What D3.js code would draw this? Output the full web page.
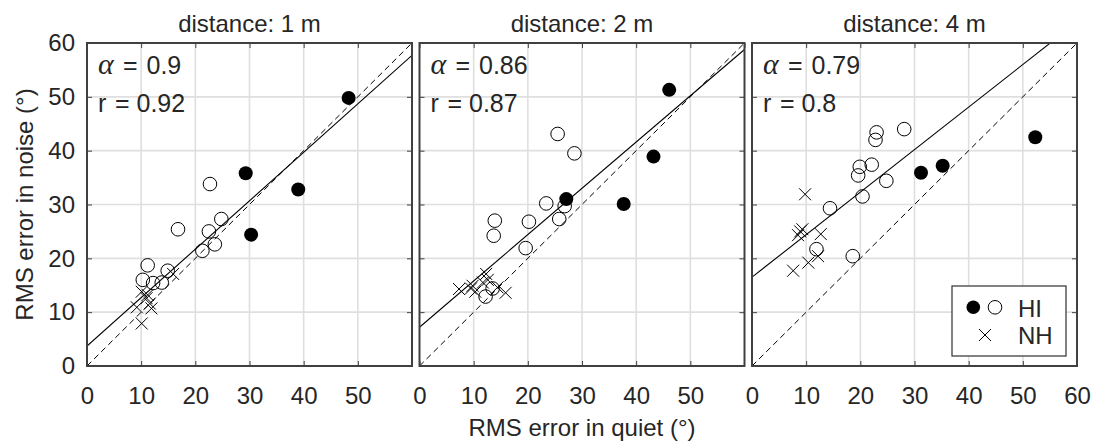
<!DOCTYPE html>
<html>
<head>
<meta charset="utf-8">
<script src="https://cdn.jsdelivr.net/npm/d3@7"></script>
<style>
  body { margin: 0; background: #fff; }
  text { font-family: "Liberation Sans", Arial, sans-serif; fill: #262626; }
</style>
</head>
<body>
<div id="chart-area"></div>
<script>

// Data ([quiet, noise] pairs)
var titles = ["distance: 1 m", "distance: 2 m", "distance: 4 m"];
var alphas = [0.9, 0.86, 0.79];
var intercepts = [3.7, 7.2, 16.5];
var rValues = [0.92, 0.87, 0.8];

var hiFilled1 = [[48.3, 49.8], [29.3, 35.8], [39.0, 32.8], [30.3, 24.4]];
var hiOpen1 = [[22.7, 33.8], [16.8, 25.4], [24.8, 27.3], [22.5, 25.0], [23.6, 22.6], [21.3, 21.4],
               [11.2, 18.7], [10.3, 16.0], [12.2, 15.4], [13.8, 15.5], [14.9, 17.7]];
var nh1 = [[10.1, 7.9], [9.2, 10.9], [10.1, 13.8], [11.0, 12.6], [11.6, 11.6], [11.9, 10.7],
           [11.2, 13.2], [15.9, 17.1]];

var hiFilled2 = [[46.1, 51.3], [43.2, 38.9], [27.1, 31.0], [37.7, 30.1]];
var hiOpen2 = [[25.5, 43.1], [28.6, 39.5], [23.4, 30.2], [26.8, 29.7], [25.8, 27.3], [13.9, 27.0],
               [13.7, 24.2], [20.2, 26.8], [19.6, 21.9], [13.5, 14.4], [12.2, 12.9]];
var nh2 = [[7.3, 14.3], [9.5, 14.4], [9.8, 14.9], [10.3, 13.8], [11.7, 15.5], [12.3, 17.1],
           [12.6, 16.0], [15.9, 13.6], [14.4, 14.6]];

var hiFilled3 = [[31.2, 35.9], [35.2, 37.2], [52.3, 42.5]];
var hiOpen3 = [[23.0, 43.4], [22.8, 42.0], [28.1, 44.0], [22.1, 37.4], [19.9, 37.0], [19.6, 35.4],
               [24.8, 34.4], [20.4, 31.5], [14.4, 29.3], [11.9, 21.7], [18.6, 20.4]];
var nh3 = [[9.8, 31.9], [8.9, 25.0], [8.5, 24.3], [9.3, 25.4], [12.7, 24.5], [7.6, 17.7],
           [10.4, 19.2], [12.2, 20.4]];

var xTicks = [0, 10, 20, 30, 40, 50, 60];
var yTicks = [0, 10, 20, 30, 40, 50, 60];

var panels = [
  {filled: hiFilled1, open: hiOpen1, nh: nh1},
  {filled: hiFilled2, open: hiOpen2, nh: nh2},
  {filled: hiFilled3, open: hiOpen3, nh: nh3}
];

// Layout
var W = 1093, H = 444;
var panelLeft = [87, 419.5, 752];
var panelW = 325, plotTop = 43, panelH = 323;
var fontSize = 24;

var svg = d3.select("#chart-area").append("svg")
    .attr("width", W)
    .attr("height", H);

var x = d3.scaleLinear().domain([0, 60]).range([0, panelW]);
var y = d3.scaleLinear().domain([0, 60]).range([panelH, 0]);

var gridColor = "#dfdfdf", boxColor = "#404040";

function crossPath(s) {
  return `M${-s},${-s}L${s},${s}M${-s},${s}L${s},${-s}`;
}

function styleTicks(sel) {
  sel.select(".domain").remove();
  sel.selectAll("line").attr("stroke", boxColor);
  sel.selectAll("text").attr("font-size", fontSize).attr("fill", "#262626")
      .attr("font-family", "Liberation Sans, Arial, sans-serif");
}

panels.forEach(function(p, i) {
  var g = svg.append("g")
      .attr("transform", `translate(${panelLeft[i]},${plotTop})`);

  g.append("clipPath").attr("id", "clip" + i)
    .append("rect").attr("width", panelW).attr("height", panelH);

  // grid
  g.selectAll(".gx").data(xTicks.slice(1, -1)).join("line")
      .attr("class", "gx")
      .attr("x1", d => x(d)).attr("x2", d => x(d))
      .attr("y1", 0).attr("y2", panelH)
      .attr("stroke", gridColor).attr("stroke-width", 1.6);
  g.selectAll(".gy").data(yTicks.slice(1, -1)).join("line")
      .attr("class", "gy")
      .attr("y1", d => y(d)).attr("y2", d => y(d))
      .attr("x1", 0).attr("x2", panelW)
      .attr("stroke", gridColor).attr("stroke-width", 1.6);

  // axes, ticks pointing inward
  var xAxis = d3.axisBottom(x).tickValues(i == 2 ? xTicks : xTicks.slice(0, -1))
      .tickSize(-5).tickPadding(21).tickFormat(d3.format("d"));
  g.append("g").attr("transform", `translate(0,${panelH})`).call(xAxis).call(styleTicks);

  g.append("g").call(d3.axisTop(x).tickValues(xTicks).tickSize(-5).tickFormat(""))
      .call(styleTicks);

  var yAxis = d3.axisLeft(y).tickValues(yTicks).tickSize(-5).tickPadding(12);
  if (i != 0) yAxis.tickFormat("");
  g.append("g").call(yAxis).call(styleTicks);

  g.append("g").attr("transform", `translate(${panelW},0)`)
      .call(d3.axisRight(y).tickValues(yTicks).tickSize(-5).tickFormat(""))
      .call(styleTicks);

  // identity (dashed) and fitted line
  var lines = g.append("g").attr("clip-path", `url(#clip${i})`);
  lines.append("line")
      .attr("x1", x(0)).attr("y1", y(0)).attr("x2", x(60)).attr("y2", y(60))
      .attr("stroke", "#000").attr("stroke-width", 1).attr("stroke-dasharray", "6,4");
  lines.append("line")
      .attr("x1", x(0)).attr("y1", y(intercepts[i]))
      .attr("x2", x(60)).attr("y2", y(intercepts[i] + alphas[i] * 60))
      .attr("stroke", "#000").attr("stroke-width", 1.1);

  // markers
  g.selectAll(".nh").data(p.nh).join("path")
      .attr("class", "nh")
      .attr("transform", d => `translate(${x(d[0])},${y(d[1])})`)
      .attr("d", crossPath(6))
      .attr("stroke", "#000").attr("stroke-width", 1).attr("fill", "none");
  g.selectAll(".op").data(p.open).join("circle")
      .attr("class", "op")
      .attr("cx", d => x(d[0])).attr("cy", d => y(d[1])).attr("r", 6.8)
      .attr("fill", "none").attr("stroke", "#000").attr("stroke-width", 1);
  g.selectAll(".fi").data(p.filled).join("circle")
      .attr("class", "fi")
      .attr("cx", d => x(d[0])).attr("cy", d => y(d[1])).attr("r", 7)
      .attr("fill", "#000");

  // box
  g.append("rect").attr("width", panelW).attr("height", panelH)
      .attr("fill", "none").attr("stroke", boxColor).attr("stroke-width", 2);

  // title
  g.append("text").attr("x", panelW / 2).attr("y", -11)
      .attr("text-anchor", "middle").attr("font-size", fontSize)
      .text(titles[i]);

  // alpha and r
  var t1 = g.append("text").attr("y", 31).attr("font-size", 25);
  t1.append("tspan").attr("x", 11).attr("font-family", "Liberation Serif, serif")
      .attr("font-style", "italic").attr("font-size", 30).text("α");
  t1.append("tspan").attr("x", 36).text("=");
  t1.append("tspan").attr("x", 59.5).text(alphas[i]);

  var t2 = g.append("text").attr("y", 68.5).attr("font-size", 25);
  t2.append("tspan").attr("x", 11).text("r");
  t2.append("tspan").attr("x", 28).text("=");
  t2.append("tspan").attr("x", 49.5).text(rValues[i]);
});

// legend in last panel
var lg = svg.append("g").attr("transform", "translate(952,286)");
lg.append("rect").attr("width", 114).attr("height", 70)
    .attr("fill", "#fff").attr("stroke", boxColor).attr("stroke-width", 1.3);
lg.append("circle").attr("cx", 21.3).attr("cy", 21.3).attr("r", 6.8).attr("fill", "#000");
lg.append("circle").attr("cx", 43).attr("cy", 21.3).attr("r", 6.8)
    .attr("fill", "none").attr("stroke", "#000");
lg.append("path").attr("transform", "translate(33,49)").attr("d", crossPath(6))
    .attr("stroke", "#000").attr("fill", "none");
lg.append("text").attr("x", 66).attr("y", 31.3).attr("font-size", fontSize).text("HI");
lg.append("text").attr("x", 66).attr("y", 58).attr("font-size", fontSize).text("NH");

// axis titles
svg.append("text")
    .attr("x", (panelLeft[0] + panelLeft[2] + panelW) / 2).attr("y", 436)
    .attr("text-anchor", "middle").attr("font-size", fontSize)
    .text("RMS error in quiet (°)");
svg.append("text")
    .attr("transform", `translate(33,${plotTop + panelH / 2}) rotate(-90)`)
    .attr("text-anchor", "middle").attr("font-size", fontSize)
    .text("RMS error in noise (°)");

</script>
</body>
</html>
